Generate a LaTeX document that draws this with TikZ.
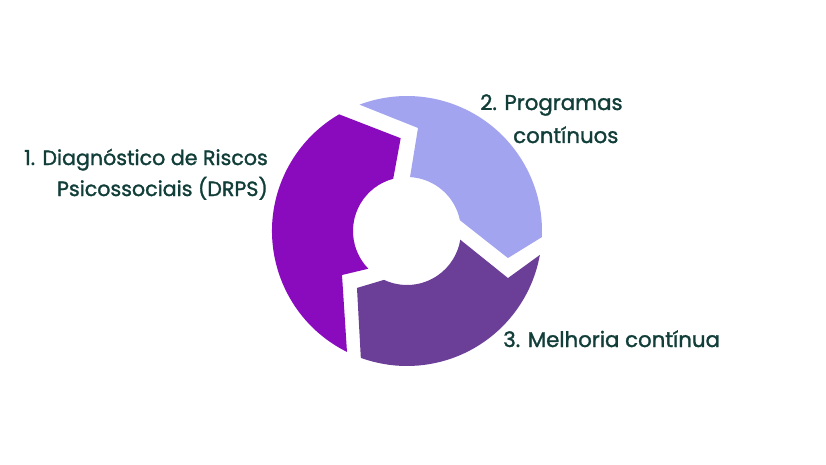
\documentclass[tikz,border=0pt]{standalone}
\usepackage{fontspec}
\setmainfont{Poppins}[FakeBold=1.4]
\definecolor{segA}{HTML}{8A0BBD}
\definecolor{segB}{HTML}{A3A4F0}
\definecolor{segC}{HTML}{6B3E97}
\definecolor{txt}{HTML}{113E39}
\begin{document}
\begin{tikzpicture}[x=1pt,y=1pt,
  lbl/.style={text=txt,font=\fontsize{21.3}{25}\selectfont,inner sep=0pt},
  lblA/.style={lbl,font=\fontsize{20.6}{25}\selectfont}]
\useasboundingbox (0,0) rectangle (826,-465);
\coordinate (C) at (407,-231);
\def\R{135}
\def\r{54}
% segment 1 (dark purple, left)
\fill[segA] ([shift={(C)}]243.6:\R) arc[start angle=243.6,end angle=120.2,radius=\R]
  -- ([shift={(C)}]93.9:93) -- ([shift={(C)}]104.8:\r)
  arc[start angle=104.8,end angle=224.3,radius=\r]
  -- ([shift={(C)}]214.1:78.5) -- cycle;
% segment 2 (light, upper right)
\fill[segB] ([shift={(C)}]110.6:\R) arc[start angle=110.6,end angle=-2.6,radius=\R]
  -- ([shift={(C)}]-15:104.5) -- ([shift={(C)}]11.5:\r)
  arc[start angle=11.5,end angle=86.8,radius=\r]
  -- ([shift={(C)}]83.9:103.6) -- cycle;
% segment 3 (medium, bottom)
\fill[segC] ([shift={(C)}]-10.2:\R) arc[start angle=-10.2,end angle=-110,radius=\R]
  -- ([shift={(C)}]228.7:75.8) -- ([shift={(C)}]244.8:\r)
  arc[start angle=244.8,end angle=350.7,radius=\r]
  -- ([shift={(C)}]-25:111.4) -- cycle;
% labels
\node[lblA,anchor=base east] (t1a) at (268,-165) {1. Diagnóstico de Riscos};
\node[lblA,anchor=base east] (t1b) at (268,-196) {Psicossociais (DRPS)};
\node[lbl,anchor=base west] (t2a) at (480,-110) {2. Programas};
\node[lbl,anchor=base west] (t2b) at (513,-143) {contínuos};
\node[lbl,anchor=base west] (t3) at (503,-347) {3. Melhoria contínua};
\end{tikzpicture}
\end{document}
